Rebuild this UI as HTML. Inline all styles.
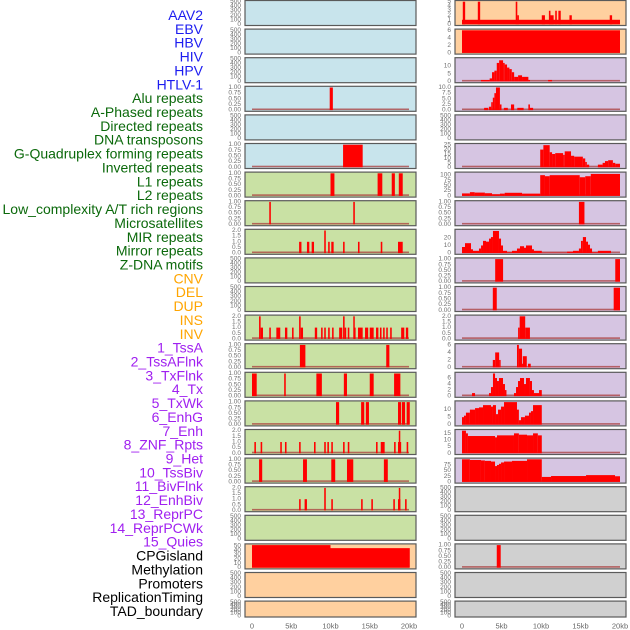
<!DOCTYPE html>
<html><head><meta charset="utf-8"><style>
html,body{margin:0;padding:0;background:#fff;}
svg{display:block;font-family:"Liberation Sans",sans-serif;}
</style></head><body>
<svg id="chart" width="630" height="630" viewBox="0 0 630 630" xmlns="http://www.w3.org/2000/svg"></svg>
<script>
// ---- row labels ----
const labelTexts = ["AAV2","EBV","HBV","HIV","HPV","HTLV-1","Alu repeats","A-Phased repeats","Directed repeats","DNA transposons","G-Quadruplex forming repeats","Inverted repeats","L1 repeats","L2 repeats","Low_complexity A/T rich regions","Microsatellites","MIR repeats","Mirror repeats","Z-DNA motifs","CNV","DEL","DUP","INS","INV","1_TssA","2_TssAFlnk","3_TxFlnk","4_Tx","5_TxWk","6_EnhG","7_Enh","8_ZNF_Rpts","9_Het","10_TssBiv","11_BivFlnk","12_EnhBiv","13_ReprPC","14_ReprPCWk","15_Quies","CPGisland","Methylation","Promoters","ReplicationTiming","TAD_boundary"];
const labelGroups = [0,0,0,0,0,0,1,1,1,1,1,1,1,1,1,1,1,1,1,2,2,2,2,2,3,3,3,3,3,3,3,3,3,3,3,3,3,3,3,4,4,4,4,4];
// ---- x axis ----
const xTickValues = [0,5,10,15,20];
const xTickLabels = ["0","5kb","10kb","15kb","20kb"];
// ---- tick label sets ----
const T500 = ["0","100","200","300","400","500"];
const T1 = ["0.00","0.25","0.50","0.75","1.00"];
const T2 = ["0.0","0.5","1.0","1.5","2.0"];
const T10b = ["0.0","2.5","5.0","7.5","10.0"];
const T5 = ["0","1","2","3","4","5"];
const T6 = ["0","2","4","6"];
const T10 = ["0","5","10"];
const T15 = ["0","5","10","15"];
const T20 = ["0","10","20"];
const T25 = ["0","5","10","15","20","25"];
const T75 = ["0","25","50","75"];
const T100 = ["0","25","50","75","100"];
const T50 = ["0","10","20","30","40","50"];
// ---- series: [startKb, endKb, value] ----
const L3_bars = [[9.9,10.3,1]];
const L5_bars = [[11.6,14.1,1]];
const L6_bars = [[10.0,10.5,1],[16.0,16.6,1],[17.8,18.2,1],[18.7,19.2,1]];
const L7_bars = [[2.2,2.4,1],[12.9,13.1,1]];
const L8_bars = [[6.0,6.3,1],[7.0,7.3,1],[7.6,7.9,1],[9.2,9.4,2],[9.7,9.9,1],[10.1,10.4,1],[11.6,11.8,1],[13.5,13.7,1],[16.4,16.6,1],[18.6,19.2,1]];
const L11_bars = [[0.9,1.1,2],[1.1,1.4,1],[2.2,2.4,1],[3.1,3.6,1],[4.2,4.5,1],[5.1,5.3,1],[6.0,6.2,2],[6.2,6.5,1],[8.0,8.3,1],[8.8,9.0,1],[9.2,9.4,1],[9.7,9.9,1],[10.2,10.4,1],[11.1,11.5,1],[11.6,11.8,2],[11.8,12.0,1],[12.2,12.4,1],[12.9,13.0,2],[13.0,13.2,1],[13.5,14.1,1],[14.4,14.8,1],[15.0,15.5,1],[15.8,16.1,1],[16.3,16.5,1],[16.7,16.9,1],[17.1,17.3,1],[17.6,17.8,1],[19.0,19.4,1],[19.6,19.9,1]];
const L12_bars = [[6.1,6.8,1],[17.1,17.5,1]];
const L13_bars = [[0.0,0.6,1],[4.1,4.3,1],[8.2,8.9,1],[11.7,12.1,1],[15.0,15.5,1],[18.1,18.9,1]];
const L14_bars = [[10.7,11.1,1],[13.9,14.3,1],[14.5,14.9,1],[18.6,19.0,1],[19.1,19.5,1],[19.7,20.1,1]];
const L15_bars = [[0.3,0.5,1],[1.1,1.3,1],[3.6,3.8,1],[4.2,4.4,1],[6.0,6.2,1],[7.9,8.1,1],[9.2,9.4,1],[9.6,9.8,1],[10.1,10.3,1],[11.6,11.8,1],[12.2,12.4,1],[15.8,16.0,1],[16.4,16.9,1],[18.1,18.3,1],[18.6,19.0,1],[18.7,18.85,2],[19.7,19.9,1]];
const L16_bars = [[0.9,1.3,1],[6.5,7.0,1],[10.1,10.6,1],[12.1,12.9,1],[16.8,17.3,1]];
const L17_bars = [[6.0,6.2,1],[6.7,7.0,1],[9.2,9.4,2],[10.1,10.3,1],[13.9,14.1,1],[15.2,15.4,1],[18.0,18.2,1],[18.6,18.9,1],[18.7,18.85,2],[19.5,19.7,1]];
const L19_bars = [[0,10,52],[10,20.1,45]];
const R0_bars = [[0,20,1],[0.1,0.4,5],[2.0,2.3,5],[6.8,7.0,5],[7.0,7.2,2],[10.1,10.5,2],[11.0,11.2,3],[11.2,11.6,2],[11.8,12.0,3],[12.2,12.5,3],[13.6,13.9,2],[18.7,19.0,2]];
const R1_bars = [[0,20,6]];
const R2_bars = [[2.4,3.5,1],[3.5,3.8,2],[3.8,4.1,6],[4.1,4.4,7],[4.4,4.7,12],[4.7,5.2,13.7],[5.2,5.4,12],[5.4,5.7,11],[5.7,6.0,9],[6.0,6.3,8],[6.3,6.6,6],[6.6,7.1,3],[7.1,7.6,4],[7.6,8.4,3],[8.4,8.6,1],[10.9,11.4,1]];
const R3_bars = [[2.8,3.3,1],[3.4,3.7,1.5],[3.7,3.9,3.5],[3.9,4.1,5.5],[4.1,4.3,7.5],[4.3,4.8,10],[4.8,5.0,2.5],[5.3,5.8,1],[6.2,6.6,2.5],[7.0,7.8,1],[8.4,8.6,2.5],[8.6,9.0,1]];
const R5_bars = [[9.9,10.3,20],[10.3,11.1,25],[11.1,11.4,17],[11.4,11.8,15],[11.8,12.8,16],[12.8,13.0,14],[13.0,13.8,18],[13.8,14.2,13],[14.2,15.3,12],[15.3,15.6,10],[15.6,15.8,6],[15.8,16.1,3],[17.2,17.8,3],[17.8,18.1,5],[18.1,18.5,7],[18.5,19.1,8],[19.1,19.4,5],[19.4,20.0,4]];
const R6_bars = [[0,1.0,12],[1.0,1.6,18],[1.6,2.9,16],[2.9,3.8,13],[3.8,4.8,8],[4.8,5.4,11],[5.4,7.6,15],[7.6,9.9,11],[9.9,10.5,100],[10.5,11.1,95],[11.1,14.9,100],[14.9,15.6,90],[15.6,16.3,95],[16.3,20.0,106]];
const R7_bars = [[14.8,15.5,1]];
const R8_bars = [[0,0.38,8],[0.38,1.14,13],[1.14,1.39,5],[1.39,2.15,3],[2.15,2.41,6],[2.41,2.66,10],[2.66,3.04,16],[3.04,3.42,15],[3.42,3.67,19],[3.67,3.92,21],[3.92,4.68,29],[4.68,4.94,19],[4.94,5.19,10],[5.19,5.7,3],[5.7,6.33,1],[6.33,6.96,3],[6.96,7.34,6],[7.34,7.85,9],[7.85,8.1,7],[8.1,8.86,10],[8.86,9.11,5],[9.11,10.1,3],[10.1,13.3,0.5],[13.3,14.05,2],[14.05,14.8,3],[14.8,15.06,6],[15.06,15.3,16],[15.3,15.7,21],[15.7,15.95,15],[15.95,16.2,11],[16.2,16.46,6],[16.46,17.2,1],[17.2,18.86,3]];
const R9_bars = [[4.2,5.2,1],[19.4,20.0,1]];
const R10_bars = [[3.9,4.4,1],[19.2,20.0,1]];
const R11_bars = [[7.1,7.3,1],[7.3,8.0,2],[8.0,8.6,1]];
const R12_bars = [[3.9,4.2,2],[4.2,4.7,4],[4.7,4.8,2],[6.96,7.2,6],[7.2,7.6,5],[7.6,7.7,1],[7.7,8.2,3],[8.35,8.7,1]];
const R13_bars = [[1.27,1.65,1],[3.42,3.67,1],[3.67,3.92,3],[3.92,4.18,7.5],[4.18,4.43,6],[4.43,4.68,5],[4.68,5.19,6],[5.19,5.44,4],[5.44,5.57,2],[6.58,6.84,1],[6.84,7.09,3],[7.09,7.34,5],[7.34,7.85,6],[7.85,8.1,4],[8.1,8.6,6],[8.6,8.86,5],[8.86,9.11,2],[9.11,9.75,1],[9.75,10.1,2]];
const R14_bars = [[0,0.25,5],[0.25,0.5,6],[0.5,1.0,8],[1.0,1.65,10],[1.65,2.15,11],[2.15,2.66,11.5],[2.66,3.67,13],[3.67,3.92,12],[3.92,4.3,13],[4.3,4.56,7],[4.56,4.94,10],[4.94,5.32,12],[5.32,6.96,15],[6.96,7.2,10],[7.2,7.47,3],[7.47,7.97,5],[7.97,8.48,6],[8.48,8.73,8],[8.73,8.99,9],[8.99,10.1,13]];
const R15_bars = [[0,0.5,17],[0.5,0.75,15],[0.75,4.18,13],[4.18,4.43,12],[4.43,6.58,13.5],[6.58,7.2,15],[7.2,8.23,14],[8.23,8.99,13.5],[8.99,9.6,15],[9.6,10.1,13.5]];
const R16_bars = [[0,1.0,100],[1.0,2.4,97],[2.4,2.9,95],[2.9,3.67,93],[3.67,4.18,90],[4.18,4.43,70],[4.43,4.68,75],[4.68,4.94,80],[4.94,5.32,86],[5.32,6.33,90],[6.33,8.23,93],[8.23,10.1,100],[10.1,11.27,22],[11.27,15.7,26],[15.7,19.37,30],[19.37,20.0,25]];
const R19_bars = [[4.4,4.9,1]];
const EMPTY = [];

const BG = {blue:"#c8e4ec", green:"#c9e1a4", orange:"#ffd09f", purple:"#d6c5e2", gray:"#d0d0d0"};
const LABEL_COLORS = ["#1c1cf0","#0b690b","#ffa500","#a020f0","#000000"];

const leftPanels = [
 ["aav2",BG.blue,T500,500,EMPTY],["ebv",BG.blue,T500,500,EMPTY],["hbv",BG.blue,T500,500,EMPTY],
 ["hiv",BG.blue,T1,1,L3_bars],["hpv",BG.blue,T500,500,EMPTY],["htlv",BG.blue,T1,1,L5_bars],
 ["alu",BG.green,T1,1,L6_bars],["aphased",BG.green,T1,1,L7_bars],["directed",BG.green,T2,2,L8_bars],
 ["dna-transposons",BG.green,T500,500,EMPTY],["g-quad",BG.green,T500,500,EMPTY],["inverted",BG.green,T2,2,L11_bars],
 ["l1",BG.green,T1,1,L12_bars],["l2",BG.green,T1,1,L13_bars],["low-complexity",BG.green,T1,1,L14_bars],
 ["microsatellites",BG.green,T2,2,L15_bars],["mir",BG.green,T1,1,L16_bars],["mirror",BG.green,T2,2,L17_bars],
 ["zdna",BG.green,T500,500,EMPTY],["cnv",BG.orange,T50,52,L19_bars],["del",BG.orange,T500,500,EMPTY],["dup",BG.orange,T500,500,EMPTY]
];
const rightPanels = [
 ["r-aav2",BG.orange,T5,5,R0_bars],["r-ebv",BG.orange,T6,6,R1_bars],["r-hbv",BG.purple,T10,14.6,R2_bars],
 ["r-hiv",BG.purple,T10b,10,R3_bars],["r-hpv",BG.purple,T500,500,EMPTY],["r-htlv",BG.purple,T25,25.5,R5_bars],
 ["r-alu",BG.purple,T100,109,R6_bars],["r-aphased",BG.purple,T1,1,R7_bars],["r-directed",BG.purple,T20,29.6,R8_bars],
 ["r-dna",BG.purple,T1,1,R9_bars],["r-gquad",BG.purple,T1,1,R10_bars],["r-inverted",BG.purple,T2,2,R11_bars],
 ["r-l1",BG.purple,T6,6,R12_bars],["r-l2",BG.purple,T6,7.5,R13_bars],["r-low",BG.purple,T10,15,R14_bars],
 ["r-micro",BG.purple,T15,17,R15_bars],["r-mir",BG.purple,T75,100,R16_bars],["r-mirror",BG.gray,T500,500,EMPTY],
 ["r-zdna",BG.gray,T500,500,EMPTY],["r-cnv",BG.gray,T1,1,R19_bars],["r-del",BG.gray,T500,500,EMPTY],["r-dup",BG.gray,T500,500,EMPTY]
];

const NS = "http://www.w3.org/2000/svg";
const svg = document.getElementById("chart");
function mk(tag, attrs, parent){ const e=document.createElementNS(NS,tag); for(const k in attrs) e.setAttribute(k,attrs[k]); (parent||svg).appendChild(e); return e; }

labelTexts.forEach((t,i)=>{
  const e = mk("text",{x:203,y:15+i*13.86,"text-anchor":"end","dominant-baseline":"central","font-size":"14",fill:LABEL_COLORS[labelGroups[i]]});
  e.textContent=t;
  
  
});

function rowTop(i){ return 0.5 + i*28.6; }
function drawColumn(panels, px0, px1, dataX0, pxPerKb, tickRight, prefix){
  const xs = kb => dataX0 + kb*pxPerKb;
  panels.forEach((p,i)=>{
    const [name,bg,ticks,ymax,bars]=p;
    const top=rowTop(i), bot=(i===panels.length-1)?617:top+25;
    const g = mk("g",{});
    
    
    mk("rect",{x:px0,y:top,width:px1-px0,height:bot-top,fill:bg,stroke:"#5a5a5a","stroke-width":1.2},g);
    const y0=bot-1.2, y1=top+1.2;
    const ys = v => y0 - (Math.min(v,ymax)/ymax)*(y0-y1);
    if(bars.length){
      const bl = mk("rect",{x:xs(0),y:y0-1.6,width:xs(20)-xs(0),height:1.6,fill:"rgba(170,60,60,0.75)"},g);
      
      
    }
    bars.forEach(b=>{
      const r = mk("rect",{x:xs(b[0]),y:ys(b[2]),width:Math.max(1.5,xs(b[1])-xs(b[0])),height:y0-ys(b[2]),fill:"#ff0000"},g);
      
      
    });
    ticks.forEach(t=>{
      const v=parseFloat(t);
      const e = mk("text",{x:tickRight,y:ys(v),"text-anchor":"end","dominant-baseline":"central","font-size":"6.5",fill:"#707070"},g);
      e.textContent=t;
      
      
    });
  });
  xTickValues.forEach((v,k)=>{
    const e = mk("text",{x:xs(v),y:626,"text-anchor":"middle","dominant-baseline":"central","font-size":"7.5",fill:"#666"});
    e.textContent=xTickLabels[k];
    
    
  });
}
drawColumn(leftPanels,245,416,252,7.85,241,"left");
drawColumn(rightPanels,455,626,462,7.9,451,"right");
</script>
</body></html>
